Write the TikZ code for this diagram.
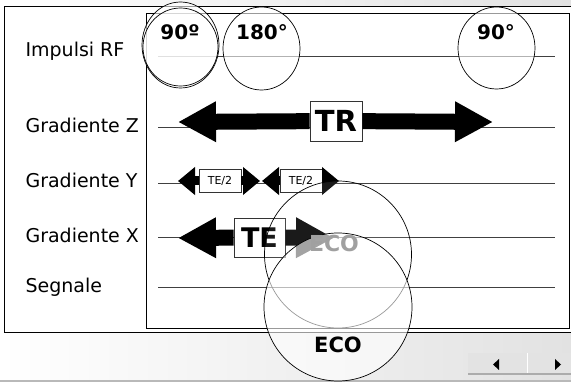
\documentclass[tikz,border=0pt]{standalone}
\usepackage{fontspec}
\setmainfont{DejaVu Sans}
\usepackage{tikz}
\usetikzlibrary{arrows.meta,positioning}
\definecolor{Panel}{HTML}{E2E2E2}
\definecolor{Ghost}{HTML}{A0A0A0}

\begin{document}
\begin{tikzpicture}[x=1pt,y=-1pt,
  lbl/.style={anchor=base west,font=\fontsize{19}{19}\selectfont},
  track/.style={draw=black!75,line width=0.9pt},
  bigarr/.style={line width=16pt,-{Triangle[length=38pt,width=38pt]}},
  smallarr/.style={line width=9pt,-{Triangle[length=17pt,width=27pt]}},
  tagbox/.style={draw=black!80,fill=white,line width=0.8pt,inner sep=0pt,font=\bfseries},
  pulse/.style={draw=black,line width=0.7pt,fill=white,fill opacity=0.6},
  pulsetxt/.style={font=\bfseries\fontsize{20}{20}\selectfont}]
  \useasboundingbox (0,0) rectangle (571,382);
  % background and frames
  \shade[left color=white,right color=Panel] (0,0) rectangle (571,382);
  \fill[gray!55] (0,380) rectangle (571,382);
  \draw[fill=white,line width=1pt] (4,7) rectangle (576,333);
  \draw[line width=0.8pt] (146,13) rectangle (569,328);

  % row labels
  \node[lbl] (rf) at (22,57) {Impulsi RF};
  \node[lbl] (gz) at (22,133) {Gradiente Z};
  \node[lbl] (gy) at (22,188) {Gradiente Y};
  \node[lbl] (gx) at (22,243) {Gradiente X};
  \node[lbl] (sg) at (22,293) {Segnale};

  % time lines
  \foreach \n/\y in {rf/56,gz/127,gy/183,gx/237,sg/287}{
    \coordinate (\n S) at (158,\y);
    \coordinate (\n E) at (555,\y);
    \draw[track] (\n S) -- (\n E);
  }

  % TR
  \node[tagbox,minimum width=52pt,minimum height=40pt,font=\bfseries\fontsize{29}{29}\selectfont] (tr) at (336,121) {TR};
  \coordinate (trL) at (178,122);
  \coordinate (trR) at (493,122);
  \draw[bigarr] (tr) -- (trL);
  \draw[bigarr] (tr) -- (trR);

  % TE/2
  \node[tagbox,minimum width=42pt,minimum height=23pt,font=\fontsize{11}{11}\selectfont] (ha) at (220,181) {TE/2};
  \node[tagbox,minimum width=42pt,minimum height=23pt,font=\fontsize{11}{11}\selectfont] (hb) at (301,181) {TE/2};
  \coordinate (haL) at (178,181);
  \coordinate (haR) at (260,181);
  \coordinate (hbL) at (262,181);
  \coordinate (hbR) at (339,181);
  \draw[smallarr] (ha) -- (haL);
  \draw[smallarr] (ha) -- (haR);
  \draw[smallarr] (hb) -- (hbL);
  \draw[smallarr] (hb) -- (hbR);

  % TE
  \coordinate (teL) at (178,238);
  \coordinate (teR) at (334,238);
  \node[tagbox,minimum width=51pt,minimum height=39pt,font=\bfseries\fontsize{27}{27}\selectfont] (te) at (259.5,237.5) {TE};
  \draw[bigarr] (te) -- (teL);
  \draw[bigarr] (te) -- (teR);

  % RF pulses
  \draw[pulse] (180.5,45) ellipse (38.5pt and 43pt);
  \draw[pulse] (180.5,47) ellipse (37.5pt and 39pt);
  \draw[pulse] (261.5,48.5) ellipse (38.5pt and 41.5pt);
  \draw[pulse] (496.5,48) ellipse (38.5pt and 41pt);
  \node[pulsetxt] (p90a) at (180,32) {90º};
  \node[pulsetxt] (p180) at (262,32) {180°};
  \node[pulsetxt] (p90b) at (496,32) {90°};

  % echo
  \draw[pulse,fill opacity=0.1] (338,254.5) circle (73.5pt);
  \draw[pulse] (338,307) circle (74pt);
  \node[Ghost,font=\bfseries\fontsize{22}{22}\selectfont] (ghost) at (334,243) {ECO};
  \node[font=\bfseries\fontsize{21}{21}\selectfont] (eco) at (338,345) {ECO};

  % player buttons
  \fill[gray!22] (468,353) rectangle (571,373);
  \draw[gray!65,line width=1.2pt] (468,374) -- (571,374);
  \draw[white,line width=1pt] (527,353) -- (527,373);
  \fill (499,359) -- (499,370) -- (493,364.5) -- cycle;
  \fill (555,359) -- (555,370) -- (561,364.5) -- cycle;
\end{tikzpicture}
\end{document}
